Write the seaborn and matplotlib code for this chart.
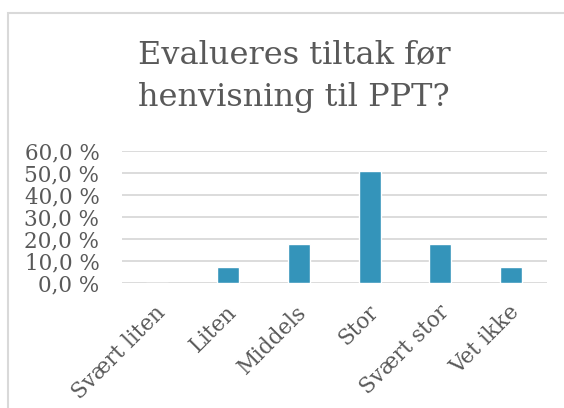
import matplotlib
matplotlib.use("Agg")
import matplotlib.pyplot as plt
import seaborn as sns
import pandas as pd
from matplotlib.patches import Rectangle
from matplotlib.ticker import FuncFormatter
from matplotlib.transforms import ScaledTranslation

categories = ["Svært liten", "Liten", "Middels", "Stor", "Svært stor", "Vet ikke"]
values = [0.0, 0.070, 0.175, 0.509, 0.175, 0.070]
title = "Evalueres tiltak før\nhenvisning til PPT?"

sns.set_theme(style="white")
plt.rcParams['font.family'] = ['DejaVu Serif', 'DejaVu Sans']

df = pd.DataFrame({"kat": categories, "andel": values})

fig = plt.figure(figsize=(5.64, 4.08), dpi=100)
ax = fig.add_axes([121.7/564, 1-282.7/408, (546.7-121.7)/564, (282.7-151)/408])

sns.barplot(data=df, x="kat", y="andel", color="#3494ba", width=0.31,
            saturation=1, ax=ax, zorder=3)

ax.set_ylim(0, 0.6)
ax.set_xlim(-0.5, len(categories)-0.5)
ax.set_yticks([0, 0.1, 0.2, 0.3, 0.4, 0.5, 0.6])
ax.yaxis.set_major_formatter(FuncFormatter(lambda v, p: f"{v*100:.1f}".replace(".", ",") + " %"))
ax.grid(axis="y", color="#d9d9d9", linewidth=1.3, zorder=0)
ax.grid(axis="x", visible=False)
for s in ax.spines.values():
    s.set_visible(False)
ax.set_xlabel("")
ax.set_ylabel("")
ax.tick_params(axis="both", length=0, colors="#595959", labelsize=15.5)
ax.tick_params(axis="y", pad=16)
ax.tick_params(axis="x", pad=19)
for lab in ax.get_xticklabels():
    lab.set_rotation(45)
    lab.set_ha("right")
    lab.set_va("center")
    lab.set_rotation_mode("anchor")
    lab.set_transform(lab.get_transform() + ScaledTranslation(5/100, 0, fig.dpi_scale_trans))
for lab in ax.get_yticklabels() + ax.get_xticklabels():
    lab.set_color("#595959")

fig.text(294/564, 1-76.5/408, title, ha="center", va="center", fontsize=23,
         color="#595959", linespacing=1.43)

fig.patches.append(Rectangle((8/564, -0.1), 1.2, 1-13/408+0.1, transform=fig.transFigure,
                             fill=False, edgecolor="#d9d9d9", linewidth=1.5))

fig.savefig("out.png", dpi=100)
